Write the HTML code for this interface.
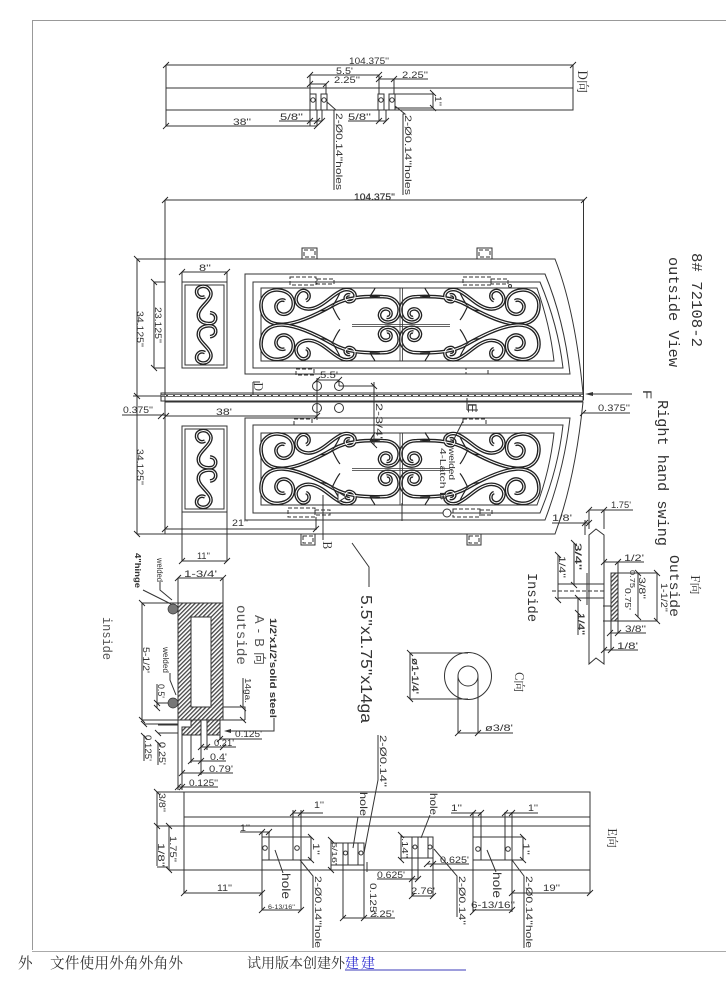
<!DOCTYPE html>
<html><head><meta charset="utf-8"><style>
html,body{margin:0;padding:0;background:#fff;width:726px;height:990px;overflow:hidden}
svg{display:block}
text{font-family:"Liberation Sans","Noto Sans CJK SC",sans-serif;font-size:9.5px;fill:#333}
text.b{font-family:"Liberation Mono","Noto Sans CJK SC",monospace}
.l{fill:none;stroke:#333;stroke-width:1}
.d{fill:none;stroke:#333;stroke-width:1;stroke-dasharray:4 2}
.t{fill:none;stroke:#222;stroke-width:.9}
.c{font-family:"Noto Serif CJK SC","Liberation Serif",serif;font-size:14px;fill:#333}
</style></head><body>
<svg width="726" height="990" viewBox="0 0 726 990" xmlns="http://www.w3.org/2000/svg">
<defs>
<pattern id="h" width="3" height="3" patternUnits="userSpaceOnUse" patternTransform="rotate(45)"><rect width="3" height="3" fill="#fff"/><rect width="1.3" height="3" fill="#444"/></pattern>
<g id="p">
<path d="M800,232C815,235 820,210 800,207C785,205 775,220 780,232C788,252 825,252 835,225C845,195 825,170 790,170C730,168 680,172 640,195C600,218 540,250 490,253C450,255 423,235 423,195C423,165 450,148 475,150C505,152 522,170 520,195C518,215 500,226 485,222C470,218 463,200 472,188C478,180 488,178 495,182"/>
<path d="M558,182C570,178 572,158 555,152C540,148 528,165 528,180C530,200 555,212 580,205C615,195 640,160 670,150C690,145 708,155 705,172C702,185 685,190 678,180C672,172 680,162 690,165"/>
</g>
<g id="q">
<use href="#p" fill="none" stroke="#222" stroke-width="11"/>
<use href="#p" fill="none" stroke="#fff" stroke-width="3"/>
<path d="M640,197C628,208 618,212 600,212M636,197C645,215 650,228 660,240M640,195C648,182 655,170 660,158M750,170C755,160 760,155 765,145M750,170C760,170 770,170 780,168" fill="none" stroke="#222" stroke-width="3.5"/>
</g>
<g id="half"><use href="#q"/><use href="#q" transform="translate(0,508) scale(1,-1)"/></g>
<g id="gr"><use href="#half"/><use href="#half" transform="translate(1680,0) scale(-1,1)"/></g>
<g id="s1"><path d="M255,170C240,178 228,165 230,152C232,138 262,130 272,155C280,180 235,200 235,225C235,245 255,253 275,250C292,245 292,220 270,218"/></g>
<g id="s"><use href="#s1" fill="none" stroke="#222" stroke-width="11"/><use href="#s1" fill="none" stroke="#fff" stroke-width="3"/><use href="#s1" transform="translate(0,508) scale(1,-1)" fill="none" stroke="#222" stroke-width="11"/><use href="#s1" transform="translate(0,508) scale(1,-1)" fill="none" stroke="#fff" stroke-width="3"/></g>
</defs>

<!-- page frame -->
<path d="M32.5,950V20.5H726" fill="none" stroke="#999" stroke-width="1"/>
<path d="M32,951.5H726" fill="none" stroke="#aaa" stroke-width="1"/>

<!-- D view -->
<path class="l" d="M166,65H573M166,65V88M573,65V88M166,88H573V110H166ZM310,75H379M310,84H326M379,79H394M394,79M394,79H428M310,75V94M379,75V94M326,84V94M394,79V94"/>
<path class="l" d="M310,94H316V110H310ZM321,94H327V110H321ZM378,94H384V110H378ZM389,94H395V110H389ZM395,94H433M395,108H433M433,93V108M310,110V126M317,110V126M322,110V121M279,121H322M348,121H386M379,110V121M386,110V121M166,110V126M166,126H317M327,102L336,110H334V190M395,106L405,114H403V195"/>
<circle class="l" cx="313" cy="100" r="2.2"/><circle class="l" cx="324" cy="100" r="2.2"/><circle class="l" cx="381" cy="100" r="2.2"/><circle class="l" cx="392" cy="100" r="2.2"/>
<text x="349" y="64" textLength="40" lengthAdjust="spacingAndGlyphs">104.375''</text>
<text x="336" y="74" textLength="17" lengthAdjust="spacingAndGlyphs">5.5'</text>
<text x="334" y="83" textLength="26" lengthAdjust="spacingAndGlyphs">2.25''</text>
<text x="402" y="78" textLength="26" lengthAdjust="spacingAndGlyphs">2.25''</text>
<text x="280" y="120" textLength="23" lengthAdjust="spacingAndGlyphs">5/8''</text>
<text x="348" y="120" textLength="23" lengthAdjust="spacingAndGlyphs">5/8''</text>
<text x="233" y="125" textLength="18" lengthAdjust="spacingAndGlyphs">38''</text>
<text transform="translate(435,96) rotate(90)" textLength="10" lengthAdjust="spacingAndGlyphs">1''</text>
<text transform="translate(336,113) rotate(90)" textLength="77" lengthAdjust="spacingAndGlyphs">2-Ø0.14''holes</text>
<text transform="translate(405,115) rotate(90)" textLength="80" lengthAdjust="spacingAndGlyphs">2-Ø0.14''holes</text>
<text class="c" transform="translate(578,70) rotate(90)" style="font-size:13px">D向</text>

<!-- main overall -->
<path class="l" d="M165,200H585M165,200V534M583.5,200V400"/>
<text x="354" y="200" textLength="41" lengthAdjust="spacingAndGlyphs" stroke="#333" stroke-width=".2">104.375''</text>
<path class="l" stroke-width="1.2" d="M165,259H555Q575,310 583,393M165,534H555Q575,480 583,402"/>
<rect class="l" x="161" y="393" width="422" height="8"/>
<path d="M161,395.5H583" fill="none" stroke="#444" stroke-width="2.5"/>
<path d="M161,395.5H583" fill="none" stroke="#fff" stroke-width="1" stroke-dasharray="5 2"/>
<path class="l" d="M165,402H583"/>

<!-- left panels -->
<path class="l" d="M182,282H227V368H182ZM185,285H224V365H185ZM182,426H227V512H182ZM185,429H224V509H185ZM182,512V561M227,512V561M182,272V282M227,272V282M182,272H227M182,561H227"/>
<g transform="translate(120,240) scale(.3333)"><use href="#s"/></g>
<g transform="translate(120,384.3) scale(.3333)"><use href="#s"/></g>
<text x="199" y="271" textLength="12" lengthAdjust="spacingAndGlyphs">8''</text>
<text x="197" y="559" textLength="13" lengthAdjust="spacingAndGlyphs">11''</text>

<!-- frames -->
<path class="l" d="M245,274H545Q564,320 570,374H245ZM253,282H540Q558,325 563,368H253ZM261,288H537Q550,325 554,361H261Z"/>
<path class="l" d="M245,418H570Q564,470 545,520H245ZM253,425H563Q558,470 540,513H253ZM261,433H554Q550,470 537,505H261Z"/>

<!-- grilles -->
<g transform="translate(120,240) scale(.3333)"><use href="#gr"/></g>
<g transform="translate(120,384) scale(.3333)"><use href="#gr"/></g>
<path fill="none" stroke="#333" stroke-width=".8" d="M400,288V361M402.5,288V361M400,433V505M402.5,433V505M352,324.5H450M352,326.5H450M352,468.5H450M352,470.5H450"/>

<!-- hinge boxes -->
<path class="l" d="M302,248H317V259H302ZM477,248H492V259H477ZM301,534H315V545H301ZM467,534H481V545H467Z"/>
<path class="d" stroke-dasharray="2 1" d="M304,250H315V257H304ZM479,250H490V257H479ZM303,536H313V543H303ZM469,536H479V543H469Z"/>
<!-- latches -->
<path class="d" d="M290,277H316V285H290ZM317,279H334V284H317ZM463,277H491V285H463ZM491,279H508V284H491ZM288,508H315V517H288ZM315,510H330V515H315ZM453,509H480V517H453ZM480,510H492V515H480ZM296,369H314V375H296ZM466,368H488V374H466ZM294,419H312V425H294ZM463,419H486V425H463Z"/>
<circle class="l" cx="510" cy="286" r="1.5"/>
<circle cx="447" cy="513" r="4" fill="#fff" stroke="#333"/>
<path class="l" stroke-width="1.5" d="M430,513H443"/>

<!-- D / 5.5 / 2-3/4 -->
<circle class="l" cx="317" cy="386" r="4.5"/><circle class="l" cx="339" cy="386" r="4.5"/><circle class="l" cx="317" cy="408" r="4.5"/><circle class="l" cx="339" cy="408" r="4.5"/>
<path class="l" d="M317,380H339M339,380V386M317,378V420M339,386H374M374,382V445M253,382V395M253,382H260"/>
<text x="320" y="378" textLength="18" lengthAdjust="spacingAndGlyphs">5.5'</text>
<text transform="translate(376,403) rotate(90)" textLength="36" lengthAdjust="spacingAndGlyphs">2-3/4'</text>
<text class="c" transform="translate(254,382) rotate(90)" style="font-size:12px">D</text>
<text x="216" y="415" textLength="16" lengthAdjust="spacingAndGlyphs">38'</text>
<path class="l" d="M166,416H317"/>
<text x="123" y="413" textLength="30" lengthAdjust="spacingAndGlyphs">0.375''</text>
<path class="l" d="M122,415H166M133,396H165"/>

<!-- left dims -->
<path class="l" d="M137,259V534M137,259H165M137,534H165M154,282V368M154,282H165M154,368H165"/>
<text transform="translate(137,311) rotate(90)" textLength="36" lengthAdjust="spacingAndGlyphs">34.125''</text>
<text transform="translate(137,449) rotate(90)" textLength="36" lengthAdjust="spacingAndGlyphs">34.125''</text>
<text transform="translate(155,307) rotate(90)" textLength="36" lengthAdjust="spacingAndGlyphs">23.125''</text>

<!-- 21 and B -->
<path class="l" d="M165,529H316M316,517V530M323,495V540M402,503V521"/>
<text x="232" y="526" textLength="16" lengthAdjust="spacingAndGlyphs">21''</text>
<text class="c" transform="translate(323,541) rotate(90)" style="font-size:12px">B</text>
<path d="M338,492V502L346,497Z" fill="#fff" stroke="#333"/>
<path class="l" d="M352,543L369,567V587"/>
<text transform="translate(361,595) rotate(90)" style="font-size:16px" textLength="128" lengthAdjust="spacingAndGlyphs">5.5''x1.75''x14ga</text>

<!-- right -->
<path class="l" d="M598,413H630M583,413H598M632,394H590"/>
<path d="M585,394L593,392V396Z" fill="#333"/>
<text x="598" y="411" textLength="32" lengthAdjust="spacingAndGlyphs">0.375''</text>
<path class="l" d="M467,398V410M467,410H478"/>
<text transform="translate(468,403) rotate(90)" style="font-size:12px" textLength="10" lengthAdjust="spacingAndGlyphs">E</text>
<text transform="translate(643,390) rotate(90)" style="font-size:12px" textLength="9" lengthAdjust="spacingAndGlyphs">F</text>
<text class="b" transform="translate(692,253) rotate(90)" style="font-size:15px" textLength="94" lengthAdjust="spacingAndGlyphs">8# 72108-2</text>
<text class="b" transform="translate(669,257) rotate(90)" style="font-size:15px" textLength="110" lengthAdjust="spacingAndGlyphs">outside View</text>
<text class="b" transform="translate(658,400) rotate(90)" style="font-size:15px" textLength="146" lengthAdjust="spacingAndGlyphs">Right hand swing</text>
<text class="b" transform="translate(670,555) rotate(90)" style="font-size:14px" textLength="62" lengthAdjust="spacingAndGlyphs">Outside</text>
<text class="c" transform="translate(691,575) rotate(90)" style="font-size:12px">F向</text>
<text class="b" transform="translate(528,573) rotate(90)" style="font-size:14px" textLength="49" lengthAdjust="spacingAndGlyphs">Inside</text>

<!-- welded latch label -->
<text transform="translate(449,448) rotate(90)" style="font-size:8px" textLength="32" lengthAdjust="spacingAndGlyphs">welded</text>
<text transform="translate(440,448) rotate(90)" style="font-size:8px" textLength="52" lengthAdjust="spacingAndGlyphs">4-Latch B</text>
<path class="l" d="M463,421L452,443"/>

<!-- F view -->
<path class="l" d="M589,535L596,529L604,535V664L596,658L589,664ZM604,510V529M589,510V529M589,510H633M552,523H589M585,520V535"/>
<path class="l" d="M611,573H657V621H603M603,606H618M604,562H644M618,562V633M611,621V650M604,650H638M610,633H646M657,573V621M638,573V617M558,584H604M558,598H604M558,555V600M574,543V585M578,598V635M587,573V605"/>
<path class="d" d="M552,591H604"/>
<rect x="611" y="573" width="7" height="48" fill="url(#h)" stroke="#333"/>
<text x="611" y="508" textLength="20" lengthAdjust="spacingAndGlyphs">1.75'</text>
<text x="552" y="521" textLength="20" lengthAdjust="spacingAndGlyphs">1/8'</text>
<text x="624" y="561" textLength="20" lengthAdjust="spacingAndGlyphs">1/2'</text>
<text x="625" y="632" textLength="21" lengthAdjust="spacingAndGlyphs">3/8''</text>
<text x="617" y="649" textLength="21" lengthAdjust="spacingAndGlyphs">1/8'</text>
<text transform="translate(661,583) rotate(90)" textLength="29" lengthAdjust="spacingAndGlyphs">1-1/2''</text>
<text transform="translate(639,577) rotate(90)" textLength="22" lengthAdjust="spacingAndGlyphs">3/8''</text>
<text transform="translate(630,570) rotate(90)" style="font-size:7.5px" textLength="18" lengthAdjust="spacingAndGlyphs">0.75</text>
<text transform="translate(625,588) rotate(90)" style="font-size:8px" textLength="22" lengthAdjust="spacingAndGlyphs">0.75'</text>
<text transform="translate(575,543) rotate(90)" textLength="27" lengthAdjust="spacingAndGlyphs" stroke="#333" stroke-width=".2">3/4''</text>
<text transform="translate(559,556) rotate(90)" textLength="22" lengthAdjust="spacingAndGlyphs">1/4''</text>
<text transform="translate(578,613) rotate(90)" textLength="22" lengthAdjust="spacingAndGlyphs" stroke="#333" stroke-width=".2">1/4''</text>

<!-- C view -->
<circle class="l" cx="468" cy="676" r="23.5"/><circle class="l" cx="468" cy="676" r="10"/>
<path class="l" d="M458,676V733M478,676V733M458,733H513M410,653H468M410,699H468M410,653V699"/>
<text x="485" y="731" textLength="28" lengthAdjust="spacingAndGlyphs">ø3/8'</text>
<text transform="translate(412,658) rotate(90)" textLength="36" lengthAdjust="spacingAndGlyphs" stroke="#333" stroke-width=".2">ø1-1/4'</text>
<text class="c" transform="translate(515,672) rotate(90)" style="font-size:12px">C向</text>

<!-- A-B view -->
<rect x="178" y="603" width="45" height="117" fill="url(#h)" stroke="#333"/>
<rect x="191" y="617" width="20" height="90" fill="#fff" stroke="#333"/>
<circle cx="173" cy="609" r="5" fill="#777" stroke="#333" stroke-width=".7"/>
<circle cx="173" cy="703" r="5" fill="#777" stroke="#333" stroke-width=".7"/>
<path d="M191,720H201V735H182V727H191ZM207,720H220V735H207Z" fill="url(#h)" stroke="#333"/>
<path class="l" d="M178,578H223M178,578V603M223,578V603M142,603V720M142,603H178M142,720H178M178,720V790M182,735V790M191,735V763M201,735V775M207,735V750M220,735V740M220,739H262M201,747H236M191,761H226M182,773H233M178,787H218M223,707H245V720M243,678V707M223,720H245M157,684V708M157,703H168M144,735V761M158,742V765M144,724H178M158,733H178M158,725H178"/>
<path class="l" d="M274,718V731H228"/>
<path d="M224,731L231,729V733Z" fill="#333"/>
<path class="l" stroke-width="1.3" d="M143,590L171,604"/>
<path class="l" d="M160,582V590L172,600M170,673V680L176,695"/>
<text x="184" y="577" textLength="33" lengthAdjust="spacingAndGlyphs">1-3/4'</text>
<text x="235" y="737" textLength="27" lengthAdjust="spacingAndGlyphs">0.125'</text>
<text x="214" y="746" textLength="20" lengthAdjust="spacingAndGlyphs">0.21'</text>
<text x="210" y="760" textLength="17" lengthAdjust="spacingAndGlyphs">0.4'</text>
<text x="209" y="772" textLength="24" lengthAdjust="spacingAndGlyphs">0.79'</text>
<text x="189" y="786" textLength="29" lengthAdjust="spacingAndGlyphs">0.125''</text>
<text transform="translate(143,647) rotate(90)" style="font-size:9px" textLength="26" lengthAdjust="spacingAndGlyphs">5-1/2'</text>
<text transform="translate(158,684) rotate(90)" style="font-size:9px" textLength="14" lengthAdjust="spacingAndGlyphs">0.5'</text>
<text transform="translate(145,735) rotate(90)" style="font-size:9px" textLength="26" lengthAdjust="spacingAndGlyphs">0.125'</text>
<text transform="translate(159,742) rotate(90)" style="font-size:9px" textLength="23" lengthAdjust="spacingAndGlyphs">0.25'</text>
<text transform="translate(135,553) rotate(90)" style="font-size:8.5px;font-weight:bold" textLength="35" lengthAdjust="spacingAndGlyphs">4"hinge</text>
<text transform="translate(157,558) rotate(90)" style="font-size:8px" textLength="24" lengthAdjust="spacingAndGlyphs">welded</text>
<text transform="translate(163,647) rotate(90)" style="font-size:8px" textLength="26" lengthAdjust="spacingAndGlyphs">welded</text>
<text class="b" transform="translate(103,617) rotate(90)" style="font-size:13px;fill:#555" textLength="43" lengthAdjust="spacingAndGlyphs">inside</text>
<text class="b" transform="translate(237,605) rotate(90)" style="font-size:14px;fill:#555" textLength="60" lengthAdjust="spacingAndGlyphs">outside</text>
<text transform="translate(255,615) rotate(90)" style="font-size:13px;fill:#555" textLength="50" lengthAdjust="spacing">A-B向</text>
<text transform="translate(270,618) rotate(90)" style="font-size:9px;font-weight:bold" textLength="100" lengthAdjust="spacingAndGlyphs">1/2'x1/2'solid steel</text>
<text transform="translate(245,678) rotate(90)" style="font-size:8px" textLength="25" lengthAdjust="spacingAndGlyphs">14ga.</text>

<!-- E view -->
<path class="l" d="M184,792H590V870H184ZM184,817H590M184,826H590"/>
<path class="l" d="M157,792V866M157,792H184M157,826H184M157,867H168M169,826V870M169,870H184M184,870V893M184,893H262"/>
<path class="l" d="M262,837H301V860H262ZM269,837V860M293,837V860M262,860V910M301,860V910M293,810V837M301,810V837M293,813H323M240,832H270M262,832V837M269,832V837M301,837H311M301,860H311M311,837V860M262,910H301M275,850L283,873M300,860L313,876V948"/>
<circle class="l" cx="265" cy="848" r="2.3"/><circle class="l" cx="297" cy="848" r="2.3"/>
<path class="l" d="M343,843H364V865H343ZM348,843V865M358,843V865M343,865V918M364,865V918M343,918H395M331,840V870M331,843H343M331,865H343M367,862V872M358,817L353,848M378,735V780L364,853"/>
<circle class="l" cx="345.5" cy="853" r="2"/><circle class="l" cx="361" cy="853" r="2"/>
<path class="l" d="M412,837H433V858H412ZM418,837V858M428,837V858M412,858V896M418,858V879M433,858V896M412,896H433M377,879H418M427,864H469M401,835V860M401,837H412M401,858H412M430,815L421,838M434,849L457,876V917"/>
<circle class="l" cx="415" cy="847" r="2"/><circle class="l" cx="430" cy="847" r="2"/>
<path class="l" d="M473,837H512V860H473ZM481,837V860M505,837V860M473,812V837M481,812V837M505,812V837M512,812V837M451,813H481M505,813H538M512,837H523M512,860H523M523,837V860M473,860V912M512,860V912M473,910H512M512,893H590M590,870V893M487,850L496,872M512,860L524,876V948"/>
<circle class="l" cx="478" cy="849" r="2.3"/><circle class="l" cx="508" cy="849" r="2.3"/>
<text x="314" y="808" textLength="10" lengthAdjust="spacingAndGlyphs">1''</text>
<text x="240" y="831" textLength="10" lengthAdjust="spacingAndGlyphs">1''</text>
<text x="451" y="811" textLength="11" lengthAdjust="spacingAndGlyphs">1''</text>
<text x="528" y="811" textLength="10" lengthAdjust="spacingAndGlyphs">1''</text>
<text x="217" y="891" textLength="15" lengthAdjust="spacingAndGlyphs">11''</text>
<text x="543" y="891" textLength="17" lengthAdjust="spacingAndGlyphs">19''</text>
<text x="268" y="909" style="font-size:6px" textLength="27" lengthAdjust="spacingAndGlyphs">6-13/16''</text>
<text x="471" y="908" textLength="44" lengthAdjust="spacingAndGlyphs">6-13/16''</text>
<text x="370" y="917" textLength="24" lengthAdjust="spacingAndGlyphs">2.25'</text>
<text x="411" y="894" textLength="24" lengthAdjust="spacingAndGlyphs">2.76'</text>
<text x="377" y="878" textLength="28" lengthAdjust="spacingAndGlyphs">0.625'</text>
<text x="440" y="863" textLength="29" lengthAdjust="spacingAndGlyphs">0.625'</text>
<text transform="translate(159,793) rotate(90)" textLength="19" lengthAdjust="spacingAndGlyphs">3/8''</text>
<text transform="translate(158,843) rotate(90)" textLength="24" lengthAdjust="spacingAndGlyphs">1/8''</text>
<text transform="translate(170,836) rotate(90)" textLength="26" lengthAdjust="spacingAndGlyphs">1.75''</text>
<text transform="translate(313,843) rotate(90)" textLength="12" lengthAdjust="spacingAndGlyphs">1''</text>
<text transform="translate(523,843) rotate(90)" textLength="12" lengthAdjust="spacingAndGlyphs">1''</text>
<text transform="translate(332,842) rotate(90)" style="font-size:7px" textLength="23" lengthAdjust="spacingAndGlyphs">5/16'</text>
<text transform="translate(402,838) rotate(90)" style="font-size:8px" textLength="20" lengthAdjust="spacingAndGlyphs">.14''</text>
<text transform="translate(370,883) rotate(90)" textLength="34" lengthAdjust="spacingAndGlyphs">0.125''</text>
<text transform="translate(282,873) rotate(90)" style="font-size:12px" textLength="26" lengthAdjust="spacingAndGlyphs">hole</text>
<text transform="translate(493,872) rotate(90)" style="font-size:12px" textLength="26" lengthAdjust="spacingAndGlyphs">hole</text>
<text transform="translate(360,792) rotate(90)" style="font-size:10px" textLength="24" lengthAdjust="spacingAndGlyphs">hole</text>
<text transform="translate(430,793) rotate(90)" style="font-size:10px" textLength="22" lengthAdjust="spacingAndGlyphs">hole</text>
<text transform="translate(315,876) rotate(90)" textLength="72" lengthAdjust="spacingAndGlyphs">2-Ø0.14''hole</text>
<text transform="translate(526,876) rotate(90)" textLength="72" lengthAdjust="spacingAndGlyphs">2-Ø0.14''hole</text>
<text transform="translate(380,735) rotate(90)" textLength="52" lengthAdjust="spacingAndGlyphs">2-Ø0.14''</text>
<text transform="translate(459,876) rotate(90)" textLength="49" lengthAdjust="spacingAndGlyphs">2-Ø0.14''</text>
<text class="c" transform="translate(608,828) rotate(90)" style="font-size:12px">E向</text>

<!-- ticks -->
<path class="t" d="M163,68l6,-6M570,68l6,-6M307,78l6,-6M376,78l6,-6M307,87l6,-6M323,87l6,-6M376,82l6,-6M391,82l6,-6M430,90l6,6M430,105l6,6M307,124l6,-6M314,124l6,-6M319,124l6,-6M376,124l6,-6M383,124l6,-6M163,129l6,-6M314,129l6,-6M162,203l6,-6M581,203l6,-6M134,256l6,6M134,393l6,6M134,531l6,6M151,279l6,6M151,365l6,6M179,275l6,-6M224,275l6,-6M179,564l6,-6M224,564l6,-6M162,532l6,-6M313,532l6,-6M371,383l6,6M371,442l6,6M314,383l6,-6M336,383l6,-6M158,419l6,-6M163,419l6,-6M314,419l6,-6M580,416l6,-6M586,513l6,-6M601,513l6,-6M582,526l6,-6M586,526l6,-6M601,565l6,-6M615,565l6,-6M607,636l6,-6M615,636l6,-6M601,653l6,-6M608,653l6,-6M654,570l6,6M654,618l6,6M635,570l6,6M635,614l6,6M555,552l6,6M555,597l6,6M571,540l6,6M571,582l6,6M575,595l6,6M575,610l6,6M455,736l6,-6M475,736l6,-6M407,650l6,6M407,696l6,6M175,581l6,-6M220,581l6,-6M139,600l6,6M139,717l6,6M154,700l6,6M154,705l6,6M141,721l6,6M141,733l6,6M155,730l6,6M155,740l6,6M217,742l6,-6M220,750l6,-6M198,750l6,-6M204,750l6,-6M188,764l6,-6M198,764l6,-6M179,776l6,-6M198,776l6,-6M175,790l6,-6M179,790l6,-6M240,705l6,6M240,717l6,6M154,789l6,6M154,823l6,6M166,823l6,6M166,867l6,6M181,896l6,-6M259,896l6,-6M259,913l6,-6M298,913l6,-6M290,816l6,-6M298,816l6,-6M259,835l6,-6M266,835l6,-6M308,834l6,6M308,857l6,6M340,921l6,-6M361,921l6,-6M328,837l6,6M328,867l6,6M409,899l6,-6M430,899l6,-6M415,882l6,-6M409,882l6,-6M424,867l6,-6M430,867l6,-6M398,832l6,6M398,857l6,6M478,816l6,-6M470,816l6,-6M502,816l6,-6M509,816l6,-6M520,834l6,6M520,857l6,6M470,915l6,-6M509,913l6,-6M509,896l6,-6M587,896l6,-6"/>

<!-- footer -->
<text class="c" x="18" y="968" style="font-size:14.6px">外</text>
<text class="c" x="50" y="968" textLength="133" lengthAdjust="spacing" style="font-size:14.6px">文件使用外角外角外</text>
<text class="c" x="247" y="968" textLength="98" lengthAdjust="spacing">试用版本创建外</text>
<text class="c" x="345" y="968" textLength="30" lengthAdjust="spacing" style="fill:#2a2ad0">建建</text>
<path d="M345,970H466" stroke="#3b3bb8" stroke-width="1" fill="none"/>
</svg>
</body></html>
